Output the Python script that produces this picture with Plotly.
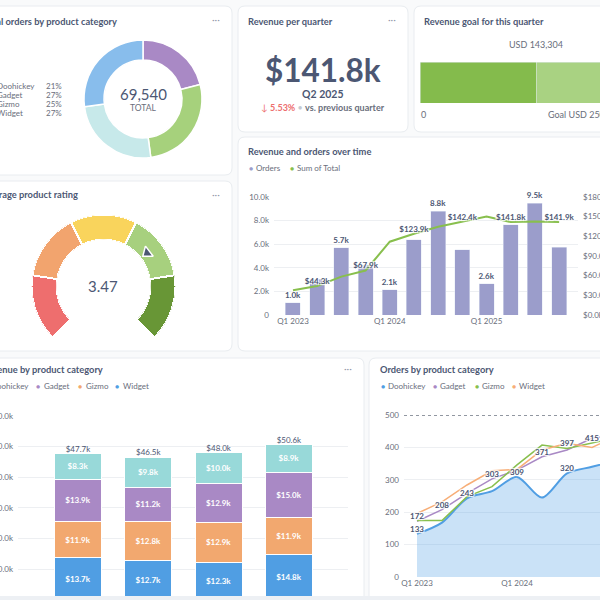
import plotly.graph_objects as go

W = H = 600
def X(p): return p / W
def Y(p): return 1 - p / H

FONT = "Lato"
DARK = "#4C5773"
MED = "#696E7B"
LIGHT = "#949AAB"
GRID = "#EDEFF2"
BG = "#F9FAFB"
TITLE = 9.3

# ---------------- data ----------------
DONUT_CATEGORIES = ["Doohickey", "Gadget", "Gizmo", "Widget"]
DONUT_ORDERS = [14650, 18650, 17400, 18840]
DONUT_COLORS = ["#A989C5", "#A6D17C", "#C7E9EA", "#88BDEC"]

QUARTERS = ["Q1 2023", "Q2 2023", "Q3 2023", "Q4 2023",
            "Q1 2024", "Q2 2024", "Q3 2024", "Q4 2024",
            "Q1 2025", "Q2 2025", "Q3 2025", "Q4 2025"]
ORDERS_PER_QUARTER = [1040, 3050, 5720, 4250, 2130, 6380, 8810, 5520, 2640, 7630, 9490, 5730]
REVENUE_PER_QUARTER = [37600, 44300, 58500, 67900, 111800, 123900, 134700, 142400,
                       150100, 141800, 142600, 141900]
ORDER_LABEL_SHOWN = [True, False] * 6
REVENUE_LABEL_SHOWN = [False, True] * 6
CURRENT_QUARTER = "Q2 2025"
QUARTER_TICKS = ["Q1 2023", "Q1 2024", "Q1 2025"]

GOAL_VALUE = 143304
GOAL_TARGET = 250000

RATING = 3.47
RATING_BANDS = [0, 1, 2, 3, 4, 5]
RATING_COLORS = ["#EE6E6E", "#F2A46E", "#F9D45C", "#A7D07E", "#689636"]

STACK_PERIODS = ["Q3 2024", "Q4 2024", "Q1 2025", "Q2 2025"]
STACK_SERIES = ["Widget", "Gizmo", "Gadget", "Doohickey"]
REV_WIDGET = [13660, 12700, 12270, 14800]
REV_GIZMO = [11880, 12800, 12860, 11900]
REV_GADGET = [13860, 11200, 12880, 15000]
REV_DOOHICKEY = [8300, 9800, 9990, 8900]
STACK_COLORS = {"Widget": "#509EE3", "Gizmo": "#F2A86F", "Gadget": "#A989C5", "Doohickey": "#98D9D9"}

LINE_QUARTERS = QUARTERS[:9]
ORD_DOOHICKEY = [133, 168, 243, 265, 309, 245, 320, 340, 360]
ORD_GADGET = [172, 208, 258, 303, 330, 371, 392, 428, 440]
ORD_GIZMO = [174, 174, 248, 279, 346, 407, 397, 415, 430]
ORD_WIDGET = [196, 232, 284, 328, 332, 392, 413, 400, 435]
LBL_DOOHICKEY = [1, 0, 1, 0, 1, 0, 1, 0, 0]
LBL_GADGET = [1, 1, 0, 1, 0, 1, 0, 0, 0]
LBL_GIZMO = [0, 0, 0, 0, 0, 0, 1, 1, 0]
LBL_WIDGET = [0] * 9
LINE_COLORS = {"Doohickey": "#509EE3", "Gadget": "#A989C5", "Gizmo": "#88BF4D", "Widget": "#F7AE77"}
ORDERS_GOAL = 500

HALO = "1px 1px 1px #fff, -1px -1px 1px #fff, 1px -1px 1px #fff, -1px 1px 1px #fff"

fig = go.Figure()
annotations = []
shapes = []

def txt(x, y, s, size=8, color=MED, anchor="left", bold=False):
    shift = {"left": -2.5, "right": 2.5, "center": 0}[anchor]
    annotations.append(dict(x=X(x + shift), y=Y(y), xref="paper", yref="paper", text=s,
                            showarrow=False, xanchor=anchor, yanchor="middle",
                            font=dict(family=FONT, size=size, color=color,
                                      weight="bold" if bold else "normal")))

def rrect(x0, y0, x1, y1, r=7):
    return (f"M {X(x0 + r)},{Y(y0)} L {X(x1 - r)},{Y(y0)} Q {X(x1)},{Y(y0)} {X(x1)},{Y(y0 + r)} "
            f"L {X(x1)},{Y(y1 - r)} Q {X(x1)},{Y(y1)} {X(x1 - r)},{Y(y1)} "
            f"L {X(x0 + r)},{Y(y1)} Q {X(x0)},{Y(y1)} {X(x0)},{Y(y1 - r)} "
            f"L {X(x0)},{Y(y0 + r)} Q {X(x0)},{Y(y0)} {X(x0 + r)},{Y(y0)} Z")

# ---------------- cards ----------------
for (x0, y0, x1, y1) in [(-10, 6, 232, 175), (238, 6, 408, 132), (414, 6, 612, 132),
                         (238, 137, 612, 351), (-10, 181, 232, 351),
                         (-10, 358, 364, 612), (369, 358, 612, 612)]:
    shapes.append(dict(type="path", path=rrect(x0, y0, x1, y1), xref="paper", yref="paper",
                       fillcolor="white", line=dict(color="#E9ECF0", width=1), layer="below"))

# ---------------- card 1: donut ----------------
total_orders = sum(DONUT_ORDERS)
fig.add_trace(go.Pie(labels=DONUT_CATEGORIES, values=DONUT_ORDERS, hole=0.66, sort=False,
                     direction="clockwise", rotation=0, textinfo="none", showlegend=False,
                     marker=dict(colors=DONUT_COLORS, line=dict(color="white", width=1.5)),
                     domain=dict(x=[X(84), X(202)], y=[Y(158), Y(40)]), hoverinfo="skip"))
txt(116, 21, "Total orders by product category", TITLE, DARK, "right", True)
txt(216, 19, "···", 10, LIGHT, "center")
txt(143, 94, f"{total_orders:,}", 15, DARK, "center")
txt(143, 108, "TOTAL", 8.5, MED, "center")
for i, (c, v) in enumerate(zip(DONUT_CATEGORIES, DONUT_ORDERS)):
    yy = 86 + 9 * i
    txt(-3, yy, c, 8, MED, "left")
    txt(46, yy, f"{v / total_orders * 100:.0f}%", 8, MED, "left")

# ---------------- card 2: revenue per quarter ----------------
qi = QUARTERS.index(CURRENT_QUARTER)
cur, prev = REVENUE_PER_QUARTER[qi], REVENUE_PER_QUARTER[qi - 1]
chg = (cur - prev) / prev * 100
txt(248, 21, "Revenue per quarter", TITLE, DARK, "left", True)
txt(392, 19, "···", 10, LIGHT, "center")
txt(323, 70, f"${cur / 1000:.1f}k", 31.5, DARK, "center", True)
txt(323, 94, CURRENT_QUARTER, 10.5, DARK, "center", True)
arrow = "↓" if chg < 0 else "↑"
txt(323, 107, f"<span style='color:#ED6E6E'>{arrow} <b>{abs(chg):.2f}%</b></span> "
               f"<span style='color:#C5C9D1'>•</span> <b>vs. previous quarter</b>", 9, MED, "center")

# ---------------- card 3: goal ----------------
txt(424, 21, "Revenue goal for this quarter", TITLE, DARK, "left", True)
fig.add_trace(go.Bar(x=[GOAL_TARGET], y=[0], orientation="h", width=1, xaxis="x", yaxis="y",
                     marker=dict(color="#A9D282"), showlegend=False, hoverinfo="skip"))
fig.add_trace(go.Bar(x=[GOAL_VALUE], y=[0], orientation="h", width=1, xaxis="x", yaxis="y6",
                     marker=dict(color="#84BB4C"), showlegend=False, hoverinfo="skip"))
fig.add_trace(go.Scatter(x=[GOAL_VALUE], y=[0.7], mode="markers", xaxis="x", yaxis="y",
                         marker=dict(symbol="triangle-down", size=9, color="#84BB4C"),
                         cliponaxis=False, showlegend=False, hoverinfo="skip"))
annotations.append(dict(x=GOAL_VALUE, xref="x", y=Y(44), yref="paper", text=f"USD {GOAL_VALUE:,}",
                        showarrow=False, xanchor="center", yanchor="middle",
                        font=dict(family=FONT, size=9, color=MED)))
txt(421, 115, "0", 9, MED, "left")
txt(548, 115, f"Goal USD {GOAL_TARGET:,}", 9, MED, "left")

# ---------------- card 4: combo ----------------
txt(248, 151, "Revenue and orders over time", TITLE, DARK, "left", True)
txt(251, 168, "●", 7, "#9B9DCB", "center")
txt(256, 168, "Orders", 8, MED, "left")
txt(292, 168, "●", 7, "#88BF4D", "center")
txt(297, 168, "Sum of Total", 8, MED, "left")
fig.add_trace(go.Bar(x=QUARTERS, y=ORDERS_PER_QUARTER, xaxis="x2", yaxis="y2", width=0.62,
                     marker=dict(color="#9B9DCB"),
                     text=[f"{v / 1000:.1f}k" if s else "" for v, s in zip(ORDERS_PER_QUARTER, ORDER_LABEL_SHOWN)],
                     textposition="outside", constraintext="none", cliponaxis=False,
                     textfont=dict(family=FONT, size=8, color=DARK, weight="bold", shadow=HALO),
                     showlegend=False, hoverinfo="skip"))
fig.add_trace(go.Scatter(x=QUARTERS, y=REVENUE_PER_QUARTER, xaxis="x2", yaxis="y3",
                         mode="lines+text", line=dict(color="#88BF4D", width=2),
                         text=[f"${v / 1000:.1f}k" if s else "" for v, s in zip(REVENUE_PER_QUARTER, REVENUE_LABEL_SHOWN)],
                         textposition="top center", cliponaxis=False,
                         textfont=dict(family=FONT, size=8, color=DARK, weight="bold", shadow=HALO),
                         showlegend=False, hoverinfo="skip"))

# ---------------- card 5: gauge ----------------
txt(77, 195, "Average product rating", TITLE, DARK, "right", True)
txt(216, 194, "···", 10, LIGHT, "center")
deg_per_unit = 270 / (RATING_BANDS[-1] - RATING_BANDS[0])
fig.add_trace(go.Barpolar(r=[1] * (len(RATING_BANDS) - 1),
                          theta=[(a + b) / 2 * deg_per_unit for a, b in zip(RATING_BANDS[:-1], RATING_BANDS[1:])],
                          width=[(b - a) * deg_per_unit for a, b in zip(RATING_BANDS[:-1], RATING_BANDS[1:])],
                          marker=dict(color=RATING_COLORS, line=dict(color="white", width=2)),
                          subplot="polar", showlegend=False, hoverinfo="skip"))
screen_angle = 225 - RATING * deg_per_unit
fig.add_trace(go.Scatterpolar(r=[0.33], theta=[RATING * deg_per_unit], mode="markers", subplot="polar",
                              marker=dict(symbol="triangle-up", size=11, color=DARK,
                                          angle=90 - (screen_angle + 180),
                                          line=dict(color="white", width=1.5)),
                              showlegend=False, hoverinfo="skip"))
txt(103.5, 286, f"{RATING:.2f}", 15, DARK, "center")

# ---------------- card 6: stacked bars ----------------
txt(102, 369, "Revenue by product category", TITLE, DARK, "right", True)
txt(348, 368, "···", 10, LIGHT, "center")
stack_values = {"Widget": REV_WIDGET, "Gizmo": REV_GIZMO, "Gadget": REV_GADGET, "Doohickey": REV_DOOHICKEY}
for name in STACK_SERIES:
    vals = stack_values[name]
    fig.add_trace(go.Bar(x=STACK_PERIODS, y=vals, xaxis="x4", yaxis="y4", width=0.67, name=name,
                         marker=dict(color=STACK_COLORS[name], line=dict(color="white", width=1)),
                         text=[f"${v / 1000:.1f}k" for v in vals], textposition="inside",
                         insidetextanchor="middle", constraintext="none",
                         textfont=dict(family=FONT, size=8, color="white", weight="bold"),
                         showlegend=False, hoverinfo="skip"))
totals = [sum(stack_values[n][i] for n in STACK_SERIES) for i in range(len(STACK_PERIODS))]
fig.add_trace(go.Scatter(x=STACK_PERIODS, y=totals, xaxis="x4", yaxis="y4", mode="text",
                         text=[f"${t / 1000:.1f}k" for t in totals], textposition="top center",
                         cliponaxis=False, textfont=dict(family=FONT, size=8, color=DARK),
                         showlegend=False, hoverinfo="skip"))
txt(28, 386, "Doohickey", 8, MED, "right")
for name, dx, tx in [("Gadget", 38, 44), ("Gizmo", 80, 86), ("Widget", 117, 123)]:
    txt(dx, 386, "●", 7, STACK_COLORS[name], "center")
    txt(tx, 386, name, 8, MED, "left")

# ---------------- card 7: orders lines ----------------
txt(380, 369, "Orders by product category", TITLE, DARK, "left", True)
for name, dx in [("Doohickey", 383), ("Gadget", 435), ("Gizmo", 477), ("Widget", 514)]:
    txt(dx, 386, "●", 7, LINE_COLORS[name], "center")
    txt(dx + 5, 386, name, 8, MED, "left")
line_data = [("Doohickey", ORD_DOOHICKEY, LBL_DOOHICKEY), ("Gadget", ORD_GADGET, LBL_GADGET),
             ("Gizmo", ORD_GIZMO, LBL_GIZMO), ("Widget", ORD_WIDGET, LBL_WIDGET)]
for name, vals, lbl in line_data:
    if name == "Doohickey":
        kw = dict(fill="tozeroy", fillcolor="rgba(80,158,227,0.3)",
                  line=dict(color=LINE_COLORS[name], width=2, shape="spline", smoothing=0.8))
    else:
        kw = dict(line=dict(color=LINE_COLORS[name], width=1.5))
    fig.add_trace(go.Scatter(x=LINE_QUARTERS, y=vals, xaxis="x5", yaxis="y5", mode="lines",
                             showlegend=False, hoverinfo="skip", **kw))
for name, vals, lbl in line_data:
    fig.add_trace(go.Scatter(x=LINE_QUARTERS, y=vals, xaxis="x5", yaxis="y5", mode="text",
                             text=[str(v) if s else "" for v, s in zip(vals, lbl)],
                             textposition="top center", cliponaxis=False,
                             textfont=dict(family=FONT, size=8, color=DARK, weight="bold", shadow=HALO),
                             showlegend=False, hoverinfo="skip"))
shapes.append(dict(type="line", xref="x5 domain", x0=0, x1=1, yref="y5", y0=ORDERS_GOAL, y1=ORDERS_GOAL,
                   line=dict(color="#6E7582", width=1.3, dash="dot")))

# bottom band
shapes.append(dict(type="rect", xref="paper", yref="paper", x0=-0.01, x1=1.01, y0=Y(601), y1=Y(596),
                   fillcolor="#EDF0F4", line=dict(width=0), layer="above"))

tickfont = dict(family=FONT, size=8, color=MED)
fig.update_layout(
    width=W, height=H, autosize=False, margin=dict(l=0, r=0, t=0, b=0, pad=0, autoexpand=False),
    paper_bgcolor=BG, plot_bgcolor="rgba(0,0,0,0)",
    font=dict(family=FONT, color=MED), barmode="stack", showlegend=False,
    annotations=annotations, shapes=shapes,
    xaxis=dict(domain=[X(420), 1], range=[0, GOAL_VALUE * 180 / 116], visible=False, fixedrange=True),
    yaxis=dict(domain=[Y(103), Y(62)], range=[-0.5, 0.5], visible=False),
    yaxis6=dict(overlaying="y", range=[-0.5, 0.5], visible=False),
    xaxis2=dict(domain=[X(274), X(578)], anchor="y2", type="category", categoryarray=QUARTERS,
                range=[-0.785, 11.78], tickvals=QUARTER_TICKS, ticktext=QUARTER_TICKS, showgrid=False,
                ticks="", tickfont=tickfont, showline=False, zeroline=False, automargin=False),
    yaxis2=dict(domain=[Y(315), Y(197)], anchor="x2", range=[0, 10000],
                tickvals=list(range(0, 10001, 2000)),
                ticktext=["0"] + [f"{v / 1000:.1f}k" for v in range(2000, 10001, 2000)],
                gridcolor=GRID, zeroline=False, showline=False, ticks="", tickfont=tickfont,
                ticklabelstandoff=4, automargin=False),
    yaxis3=dict(overlaying="y2", side="right", anchor="x2", range=[0, 180000],
                tickvals=list(range(0, 180001, 30000)),
                ticktext=[f"${v / 1000:.1f}k" for v in range(0, 180001, 30000)],
                showgrid=False, zeroline=False, showline=False, ticks="", tickfont=tickfont,
                ticklabelstandoff=4, automargin=False),
    xaxis4=dict(domain=[X(18), X(348)], anchor="y4", type="category", categoryarray=STACK_PERIODS,
                range=[-0.853, 3.84], showticklabels=False, showgrid=False, ticks="", zeroline=False,
                automargin=False),
    yaxis4=dict(domain=[Y(599.6), Y(416)], anchor="x4", range=[0, 60000],
                tickvals=list(range(10000, 60001, 10000)),
                ticktext=[f"${v / 1000:.1f}k" for v in range(10000, 60001, 10000)],
                gridcolor=GRID, zeroline=False, ticks="", tickfont=tickfont, ticklabelstandoff=4,
                automargin=False),
    xaxis5=dict(domain=[X(404), 1], anchor="y5", type="category", categoryarray=QUARTERS,
                range=[-0.52, 7.32], tickvals=QUARTER_TICKS, ticktext=QUARTER_TICKS, showgrid=False,
                ticks="", tickfont=tickfont, zeroline=False, automargin=False),
    yaxis5=dict(domain=[Y(577), Y(415)], anchor="x5", range=[0, 500],
                tickvals=list(range(0, 501, 100)), gridcolor=GRID, zeroline=False, ticks="",
                tickfont=tickfont, ticklabelstandoff=4, automargin=False),
    polar=dict(domain=dict(x=[X(31.5), X(175.5)], y=[Y(358.5), Y(214.5)]), hole=0.65,
               bgcolor="rgba(0,0,0,0)",
               radialaxis=dict(visible=False, range=[0, 1]),
               angularaxis=dict(visible=False, rotation=225, direction="clockwise")),
)

fig.write_html("out.html")
